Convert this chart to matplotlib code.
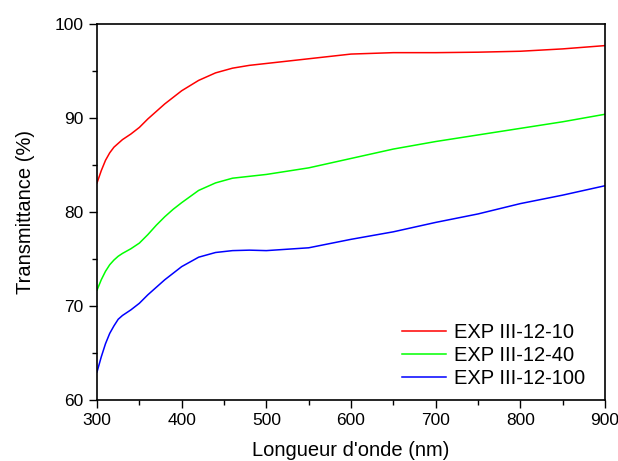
import matplotlib
matplotlib.use("Agg")
import matplotlib.pyplot as plt
from matplotlib.ticker import MultipleLocator

plt.rcParams["font.family"] = ["Liberation Sans", "DejaVu Sans"]

# wavelength grid (nm) and transmittance (%)
wavelength = [300, 305, 310, 315, 320, 325, 330, 340, 350, 360, 370, 380, 390,
              400, 420, 440, 460, 480, 500, 550, 600, 650, 700, 750, 800,
              850, 900]
t_exp_10 = [83.1, 84.4, 85.5, 86.3, 86.9, 87.3, 87.7, 88.3, 89.0, 89.9, 90.7,
            91.5, 92.2, 92.9, 94.0, 94.8, 95.3, 95.6, 95.8, 96.3, 96.8, 96.95,
            96.95, 97.0, 97.1, 97.35, 97.7]
t_exp_40 = [71.7, 72.8, 73.7, 74.4, 74.9, 75.3, 75.6, 76.1, 76.7, 77.6, 78.6,
            79.5, 80.3, 81.0, 82.3, 83.1, 83.6, 83.8, 84.0, 84.7, 85.7, 86.7,
            87.5, 88.2, 88.9, 89.6, 90.4]
t_exp_100 = [63.0, 64.6, 66.0, 67.1, 67.9, 68.6, 69.0, 69.6, 70.3, 71.2, 72.0,
             72.8, 73.5, 74.2, 75.2, 75.7, 75.9, 75.95, 75.9, 76.2, 77.1, 77.9,
             78.9, 79.8, 80.9, 81.8, 82.8]

labels = ["EXP III-12-10", "EXP III-12-40", "EXP III-12-100"]
colors = ["#ff0000", "#00ff00", "#0000ff"]

fig = plt.figure(figsize=(6.18, 4.61), dpi=100)
ax = fig.add_axes([0.157, 0.132, 0.822, 0.816])

for ys, lab, c in zip([t_exp_10, t_exp_40, t_exp_100], labels, colors):
    ax.plot(wavelength, ys, color=c, lw=1.1, label=lab)

ax.set_xlim(300, 900)
ax.set_ylim(60, 100)
ax.xaxis.set_major_locator(MultipleLocator(100))
ax.xaxis.set_minor_locator(MultipleLocator(50))
ax.yaxis.set_major_locator(MultipleLocator(10))
ax.yaxis.set_minor_locator(MultipleLocator(5))
ax.tick_params(which="both", direction="out", top=False, right=False,
               labelsize=12.5, width=1)
ax.tick_params(which="major", length=6)
ax.tick_params(which="minor", length=3.5)
for sp in ax.spines.values():
    sp.set_linewidth(1.2)

ax.set_xlabel("Longueur d'onde (nm)", fontsize=14.5, labelpad=9)
ax.set_ylabel("Transmittance (%)", fontsize=14.5, labelpad=14)

ax.legend(loc="lower right", frameon=False, fontsize=14.5, handlelength=2.2,
          handletextpad=0.4, labelspacing=0.2, borderaxespad=0.2,
          bbox_to_anchor=(0.985, 0.0))

fig.savefig("out.png", dpi=100)
